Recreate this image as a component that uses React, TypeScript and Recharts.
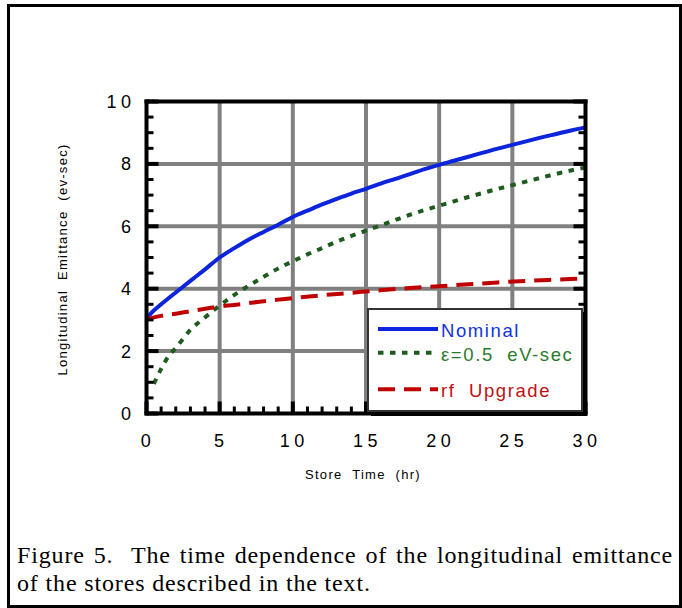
import React from 'react'
import { LineChart, Line, XAxis, YAxis, CartesianGrid, Legend, Label } from 'recharts'

const FONT = '"Liberation Sans", Arial, Helvetica, sans-serif'
const SERIF = '"Liberation Serif", "Times New Roman", Times, serif'

// store time (hr) -> longitudinal emittance (eV-sec)
const nominalHours = [0, 0.5, 1, 2, 3, 4, 5, 6, 7, 8, 9, 10, 11, 12, 13, 14, 15, 16, 17, 18, 19, 20, 21, 22, 23, 24, 25, 26, 27, 28, 29, 30]
const nominalEmit = [3.05, 3.3, 3.5, 3.88, 4.25, 4.62, 5.0, 5.3, 5.58, 5.82, 6.05, 6.3, 6.5, 6.7, 6.88, 7.05, 7.2, 7.37, 7.52, 7.67, 7.83, 7.97, 8.1, 8.23, 8.36, 8.49, 8.61, 8.73, 8.85, 8.96, 9.07, 9.17]

const epsHours = [0.5, 1, 1.5, 2, 3, 4, 5, 6, 7, 8, 9, 10, 11, 12, 13, 14, 15, 16, 17, 18, 19, 20, 21, 22, 23, 24, 25, 26, 27, 28, 29, 30]
const epsEmit = [0.95, 1.43, 1.83, 2.1, 2.68, 3.08, 3.46, 3.8, 4.1, 4.38, 4.65, 4.88, 5.1, 5.3, 5.51, 5.69, 5.86, 6.03, 6.2, 6.37, 6.52, 6.66, 6.8, 6.94, 7.07, 7.2, 7.32, 7.44, 7.56, 7.68, 7.79, 7.88]

const rfHours = [0, 1, 2, 3, 4, 5, 6, 7, 8, 9, 10, 12, 14, 16, 18, 20, 22, 24, 26, 28, 30]
const rfEmit = [3.02, 3.13, 3.2, 3.28, 3.36, 3.43, 3.48, 3.54, 3.6, 3.65, 3.7, 3.79, 3.87, 3.95, 4.02, 4.08, 4.14, 4.2, 4.25, 4.29, 4.33]

const seriesNames = ['Nominal', '\u03b5=0.5  eV-sec', 'rf  Upgrade']

const xTicks = Array.from({ length: 31 }, (_, i) => i) // minor every hour, labels every 5
const yTicks = Array.from({ length: 21 }, (_, i) => i / 2) // minor every 0.5, labels every 2
const xGrid = [5, 10, 15, 20, 25]
const yGrid = [2, 4, 6, 8]

const xTitle = 'Store  Time  (hr)'
const yTitle = 'Longitudinal  Emittance  (ev-sec)'
const captionLine1 = 'Figure 5.  The time dependence of the longitudinal emittance'
const captionLine2 = 'of the stores described in the text.'

const BLUE = '#0b24dc'
const GREEN = '#1d5c1d'
const RED = '#c00000'

const toPoints = (hours: number[], vals: number[]) => hours.map((t, i) => ({ t, e: vals[i] }))
const nominalData = toPoints(nominalHours, nominalEmit)
const epsData = toPoints(epsHours, epsEmit)
const rfData = toPoints(rfHours, rfEmit)

const tickText = {
  fontSize: 18,
  letterSpacing: 4.5,
  fill: '#000',
  fontFamily: FONT,
}

const BottomTick = (props: any) => {
  const { x, y, payload } = props
  const v = payload.value
  const major = v % 5 === 0
  return (
    <g>
      <line x1={x} x2={x} y1={y} y2={y - (major ? 12 : 7)} stroke="#000" strokeWidth={major ? 4 : 3} />
      {major && (
        <text x={x + 1.5} y={y + 33} textAnchor="middle" {...tickText}>
          {v}
        </text>
      )}
    </g>
  )
}

const TopTick = (props: any) => {
  const { x, y, payload } = props
  const major = payload.value % 5 === 0
  return <line x1={x} x2={x} y1={y} y2={y + (major ? 12 : 7)} stroke="#000" strokeWidth={major ? 4 : 3} />
}

const LeftTick = (props: any) => {
  const { x, y, payload } = props
  const v = payload.value
  const major = v % 2 === 0
  return (
    <g>
      <line x1={x} x2={x + (major ? 12 : 7)} y1={y} y2={y} stroke="#000" strokeWidth={major ? 4 : 3} />
      {major && (
        <text x={x - 11} y={y + 6.5} textAnchor="end" {...tickText}>
          {v}
        </text>
      )}
    </g>
  )
}

const RightTick = (props: any) => {
  const { x, y, payload } = props
  const major = payload.value % 2 === 0
  return <line x1={x} x2={x - (major ? 12 : 7)} y1={y} y2={y} stroke="#000" strokeWidth={major ? 4 : 3} />
}

const XTitle = (props: any) => {
  const vb = props.viewBox || { x: 146.5, y: 413.5, width: 439, height: 30 }
  return (
    <text
      x={vb.x + vb.width / 2 - 3}
      y={vb.y + 65}
      textAnchor="middle"
      fontSize={13}
      letterSpacing={1.3}
      fontFamily={FONT}
      fill="#000"
      style={{ whiteSpace: 'pre' }}
    >
      {xTitle}
    </text>
  )
}

const YTitle = (props: any) => {
  const vb = props.viewBox || { x: 86.5, y: 101.5, width: 60, height: 312 }
  const cx = vb.x - 20
  const cy = vb.y + vb.height / 2 + 2
  return (
    <text
      x={cx}
      y={cy}
      transform={`rotate(-90, ${cx}, ${cy})`}
      textAnchor="middle"
      fontSize={13}
      letterSpacing={1.3}
      fontFamily={FONT}
      fill="#000"
      style={{ whiteSpace: 'pre' }}
    >
      {yTitle}
    </text>
  )
}

const legendItems = [
  { name: seriesNames[0], color: BLUE, text: '#1133dd', dash: undefined as string | undefined },
  { name: seriesNames[1], color: GREEN, text: '#2b7a2b', dash: '5.5 6.5' },
  { name: seriesNames[2], color: RED, text: '#c01010', dash: '17 9' },
]
const legendRows = [21, 44.7, 81.3]

const LegendBox = () => (
  <svg width={222} height={110} style={{ display: 'block' }}>
    <rect x={4} y={4} width={216} height={104} fill="#000" />
    <rect x={1} y={1} width={214} height={102} fill="#fff" stroke="#333" strokeWidth={2} />
    {legendItems.map((it, i) => (
      <g key={it.name}>
        <line x1={11} x2={71} y1={legendRows[i]} y2={legendRows[i]} stroke={it.color} strokeWidth={4} strokeDasharray={it.dash} />
        <text
          x={74}
          y={legendRows[i] + 7.8}
          fontSize={18.5}
          letterSpacing={1.6}
          fontFamily={FONT}
          fill={it.text}
          style={{ whiteSpace: 'pre' }}
        >
          {it.name}
        </text>
      </g>
    ))}
  </svg>
)

const captionStyle = {
  position: 'absolute' as const,
  left: 17,
  width: 656,
  fontFamily: SERIF,
  fontSize: 24,
  letterSpacing: 0.85,
  lineHeight: '28px',
  color: '#000',
  whiteSpace: 'pre-wrap' as const,
}

export default function App() {
  return (
    <div style={{ position: 'absolute', left: 0, top: 0, width: 682, height: 608, background: '#fff', overflow: 'hidden' }}>
      <div
        style={{
          position: 'absolute',
          left: 7,
          top: 4,
          width: 675,
          height: 604,
          border: '3px solid #000',
          boxSizing: 'border-box',
        }}
      />
      <div style={{ position: 'absolute', left: 0, top: 0 }}>
        <LineChart width={682} height={608} margin={{ top: 91.5, right: 86.5, bottom: 164.5, left: 86.5 }}>
          <CartesianGrid stroke="#808080" strokeWidth={4} horizontalValues={yGrid} verticalValues={xGrid} />
          <Line data={nominalData} dataKey="e" type="monotone" stroke={BLUE} strokeWidth={4} dot={false} activeDot={false} isAnimationActive={false} name={seriesNames[0]} />
          <Line data={epsData} dataKey="e" type="monotone" stroke={GREEN} strokeWidth={4} strokeDasharray="5.5 6.5" dot={false} activeDot={false} isAnimationActive={false} name={seriesNames[1]} />
          <Line data={rfData} dataKey="e" type="monotone" stroke={RED} strokeWidth={4} strokeDasharray="17 9" dot={false} activeDot={false} isAnimationActive={false} name={seriesNames[2]} />
          <XAxis
            dataKey="t"
            type="number"
            domain={[0, 30]}
            allowDataOverflow
            ticks={xTicks}
            interval={0}
            height={30}
            tickSize={0}
            tickMargin={0}
            tickLine={false}
            axisLine={{ stroke: '#000', strokeWidth: 4, strokeLinecap: 'square' }}
            tick={BottomTick}
          >
            <Label content={XTitle} />
          </XAxis>
          <XAxis
            xAxisId="top"
            orientation="top"
            type="number"
            domain={[0, 30]}
            allowDataOverflow
            ticks={xTicks}
            interval={0}
            height={10}
            tickSize={0}
            tickMargin={0}
            tickLine={false}
            axisLine={{ stroke: '#000', strokeWidth: 4, strokeLinecap: 'square' }}
            tick={TopTick}
          />
          <YAxis
            type="number"
            domain={[0, 10]}
            allowDataOverflow
            ticks={yTicks}
            interval={0}
            width={60}
            tickSize={0}
            tickMargin={0}
            tickLine={false}
            axisLine={{ stroke: '#000', strokeWidth: 4, strokeLinecap: 'square' }}
            tick={LeftTick}
          >
            <Label content={YTitle} />
          </YAxis>
          <YAxis
            yAxisId="right"
            orientation="right"
            type="number"
            domain={[0, 10]}
            allowDataOverflow
            ticks={yTicks}
            interval={0}
            width={10}
            tickSize={0}
            tickMargin={0}
            tickLine={false}
            axisLine={{ stroke: '#000', strokeWidth: 4, strokeLinecap: 'square' }}
            tick={RightTick}
          />
          <Legend
            layout="horizontal"
            verticalAlign="middle"
            align="center"
            content={LegendBox}
            wrapperStyle={{ left: 367, top: 308, width: 222, height: 110 }}
          />
        </LineChart>
      </div>
      <div style={{ ...captionStyle, top: 541, textAlign: 'justify', textAlignLast: 'justify' }}>{captionLine1}</div>
      <div style={{ ...captionStyle, top: 569 }}>{captionLine2}</div>
    </div>
  )
}
